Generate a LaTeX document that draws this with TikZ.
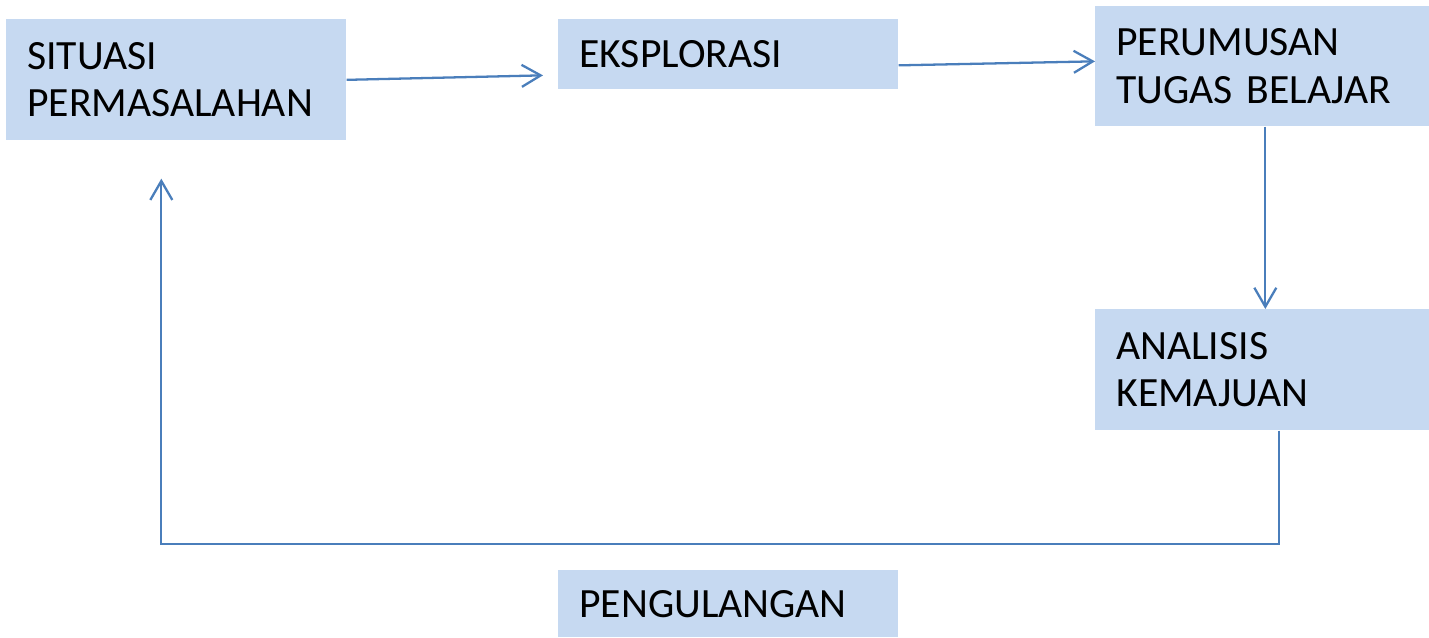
\documentclass[tikz,border=0pt]{standalone}
\usepackage{fontspec}
\setmainfont{Carlito}
\usetikzlibrary{positioning, calc, arrows.meta}
\definecolor{boxfill}{HTML}{C6D9F1}
\definecolor{linkblue}{HTML}{4A7EBB}

\begin{document}
\begin{tikzpicture}[
    x=0.02cm, y=-0.02cm,
    stage/.style={rectangle, fill=boxfill, anchor=north west, align=left,
        inner xsep=0.42cm, inner ysep=0pt,
        font=\fontsize{23.7}{27}\selectfont},
    flow/.style={draw=linkblue, line width=1.3pt,
        -{Straight Barb[length=0.38cm, width=0.44cm, line width=1.3pt]}},
    ]
    \useasboundingbox (0,0) rectangle (1429,637);
    % Stages
    \node[stage, minimum width=6.8cm, minimum height=2.42cm, text width=5.96cm] (sit) at (6,19) {SITUASI\\PERMASALAHAN};
    \node[stage, minimum width=6.8cm, minimum height=1.4cm, text width=5.96cm] (eks) at (558,19) {EKSPLORASI};
    \node[stage, minimum width=6.68cm, minimum height=2.4cm, text width=5.84cm] (per) at (1095,6) {PERUMUSAN\\TUGAS BELAJAR};
    \node[stage, minimum width=6.68cm, minimum height=2.42cm, text width=5.84cm] (ana) at (1095,309) {ANALISIS\\KEMAJUAN};
    % Repetition label
    \node[stage, minimum width=6.8cm, minimum height=1.34cm, text width=5.96cm] (ulang) at (558,570) {PENGULANGAN};

    % Forward arrows
    \draw[flow] (sit.east) -- ($(eks.west)+(-15,21)$);
    \draw[flow] ($(eks.east)+(0,11)$) -- ($(per.west)+(0,-5)$);
    \draw[flow] ($(per.south)+(3,0)$) -- ($(ana.north)+(3,0)$);

    % Loop back
    \coordinate (turn) at ($(sit.south)+(-15,403)$);
    \draw[flow] ($(ana.south)+(17,0)$) |- (turn) -- ($(sit.south)+(-15,38)$);
\end{tikzpicture}
\end{document}
